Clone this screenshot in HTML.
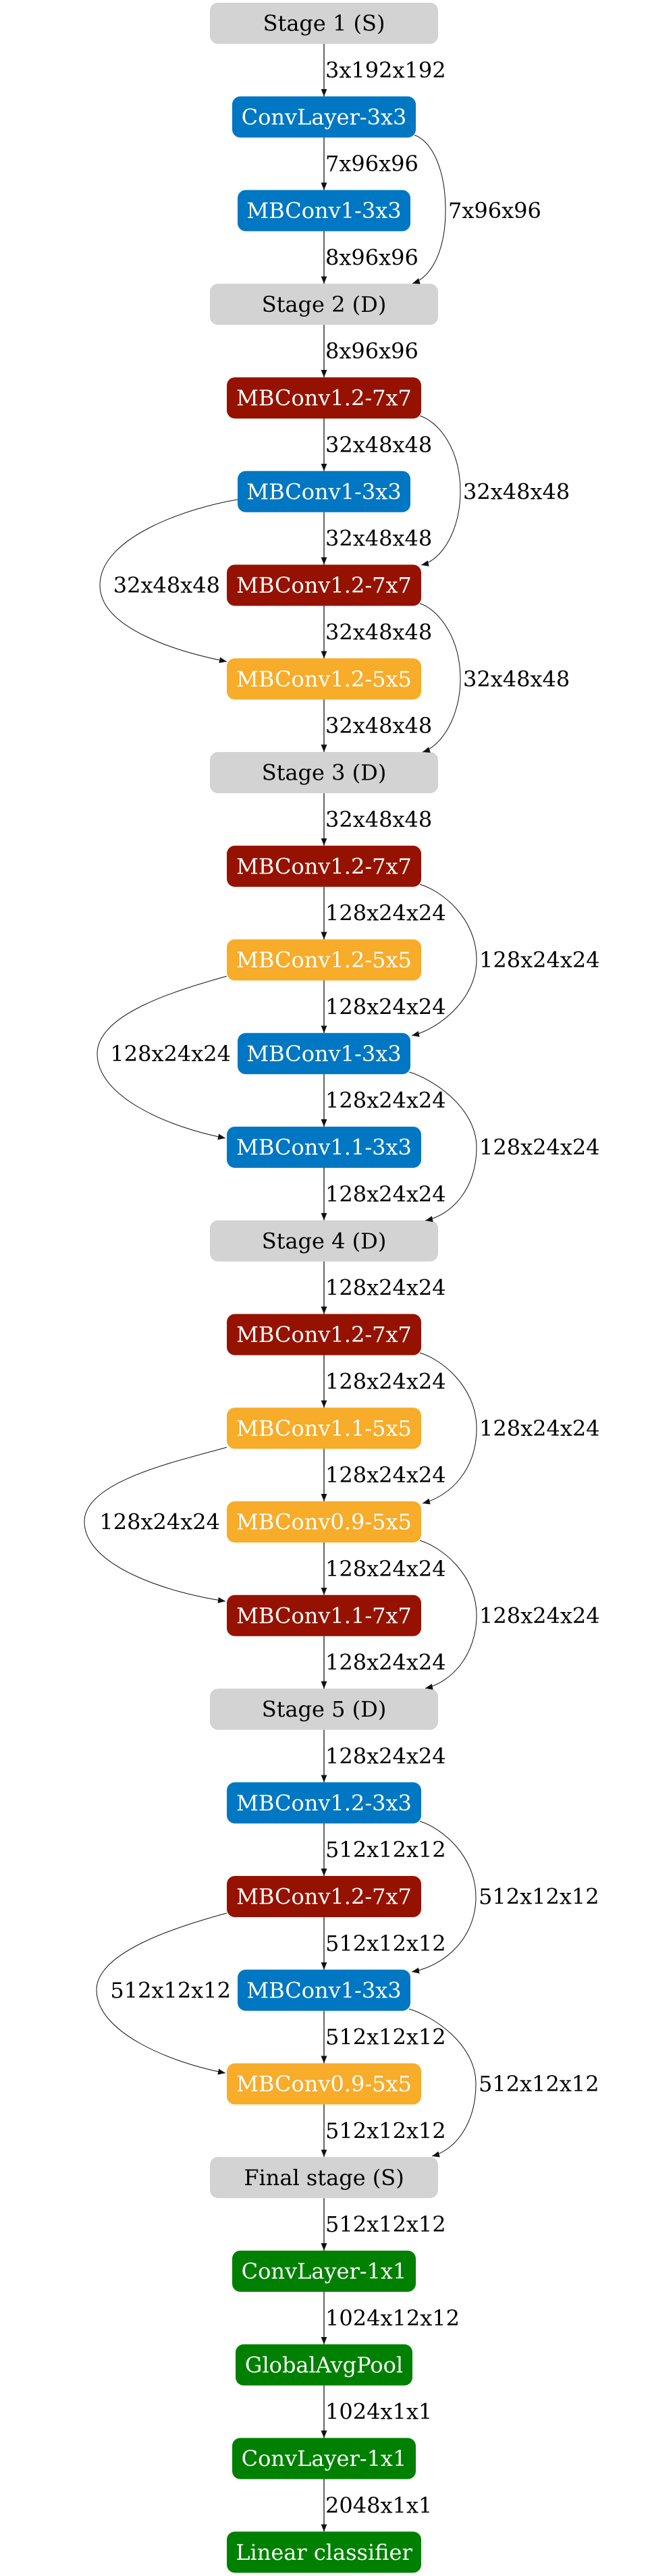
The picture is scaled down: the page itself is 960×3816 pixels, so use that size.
<!DOCTYPE html>
<html><head><meta charset="utf-8"><style>
html,body{margin:0;padding:0;background:#fff}
svg{display:block}
text{font-family:"DejaVu Serif","Liberation Serif",serif;font-size:32px}
.w{fill:#fff}
.lbl{fill:#000}
.v{stroke:#333;stroke-width:1.5}
.c{stroke:#111;stroke-width:1;fill:none}
</style></head><body>
<svg width="960" height="3816" viewBox="0 0 960 3816" xmlns="http://www.w3.org/2000/svg">
<defs><marker id="a" markerWidth="12" markerHeight="10" refX="11" refY="4.5" orient="auto" markerUnits="userSpaceOnUse"><path d="M0,0 L11,4.5 L0,9 z" fill="#111"/></marker></defs>

<g text-anchor="middle" dominant-baseline="central">
<rect x="311" y="4" width="338" height="61" rx="12" fill="#d3d3d3"/><text x="480" y="34.5">Stage 1 (S)</text>
<rect x="344" y="142.75" width="272" height="61" rx="12" fill="#0077c2"/><text class="w" x="480" y="173.25">ConvLayer-3x3</text>
<rect x="352" y="281.5" width="256" height="61" rx="12" fill="#0077c2"/><text class="w" x="480" y="312">MBConv1-3x3</text>
<rect x="311" y="420.25" width="338" height="61" rx="12" fill="#d3d3d3"/><text x="480" y="450.75">Stage 2 (D)</text>
<rect x="336" y="559" width="288" height="61" rx="12" fill="#961200"/><text class="w" x="480" y="589.5">MBConv1.2-7x7</text>
<rect x="352" y="697.75" width="256" height="61" rx="12" fill="#0077c2"/><text class="w" x="480" y="728.25">MBConv1-3x3</text>
<rect x="336" y="836.5" width="288" height="61" rx="12" fill="#961200"/><text class="w" x="480" y="867">MBConv1.2-7x7</text>
<rect x="336" y="975.25" width="288" height="61" rx="12" fill="#f7ac2a"/><text class="w" x="480" y="1005.75">MBConv1.2-5x5</text>
<rect x="311" y="1114" width="338" height="61" rx="12" fill="#d3d3d3"/><text x="480" y="1144.5">Stage 3 (D)</text>
<rect x="336" y="1252.75" width="288" height="61" rx="12" fill="#961200"/><text class="w" x="480" y="1283.25">MBConv1.2-7x7</text>
<rect x="336" y="1391.5" width="288" height="61" rx="12" fill="#f7ac2a"/><text class="w" x="480" y="1422">MBConv1.2-5x5</text>
<rect x="352" y="1530.25" width="256" height="61" rx="12" fill="#0077c2"/><text class="w" x="480" y="1560.75">MBConv1-3x3</text>
<rect x="336" y="1669" width="288" height="61" rx="12" fill="#0077c2"/><text class="w" x="480" y="1699.5">MBConv1.1-3x3</text>
<rect x="311" y="1807.75" width="338" height="61" rx="12" fill="#d3d3d3"/><text x="480" y="1838.25">Stage 4 (D)</text>
<rect x="336" y="1946.5" width="288" height="61" rx="12" fill="#961200"/><text class="w" x="480" y="1977">MBConv1.2-7x7</text>
<rect x="336" y="2085.25" width="288" height="61" rx="12" fill="#f7ac2a"/><text class="w" x="480" y="2115.75">MBConv1.1-5x5</text>
<rect x="336" y="2224" width="288" height="61" rx="12" fill="#f7ac2a"/><text class="w" x="480" y="2254.5">MBConv0.9-5x5</text>
<rect x="336" y="2362.75" width="288" height="61" rx="12" fill="#961200"/><text class="w" x="480" y="2393.25">MBConv1.1-7x7</text>
<rect x="311" y="2501.5" width="338" height="61" rx="12" fill="#d3d3d3"/><text x="480" y="2532">Stage 5 (D)</text>
<rect x="336" y="2640.25" width="288" height="61" rx="12" fill="#0077c2"/><text class="w" x="480" y="2670.75">MBConv1.2-3x3</text>
<rect x="336" y="2779" width="288" height="61" rx="12" fill="#961200"/><text class="w" x="480" y="2809.5">MBConv1.2-7x7</text>
<rect x="352" y="2917.75" width="256" height="61" rx="12" fill="#0077c2"/><text class="w" x="480" y="2948.25">MBConv1-3x3</text>
<rect x="336" y="3056.5" width="288" height="61" rx="12" fill="#f7ac2a"/><text class="w" x="480" y="3087">MBConv0.9-5x5</text>
<rect x="311" y="3195.25" width="338" height="61" rx="12" fill="#d3d3d3"/><text x="480" y="3225.75">Final stage (S)</text>
<rect x="344" y="3334" width="272" height="61" rx="12" fill="#008000"/><text class="w" x="480" y="3364.5">ConvLayer-1x1</text>
<rect x="349" y="3472.75" width="262" height="61" rx="12" fill="#008000"/><text class="w" x="480" y="3503.25">GlobalAvgPool</text>
<rect x="344" y="3611.5" width="272" height="61" rx="12" fill="#008000"/><text class="w" x="480" y="3642">ConvLayer-1x1</text>
<rect x="336" y="3750.25" width="288" height="61" rx="12" fill="#008000"/><text class="w" x="480" y="3780.75">Linear classifier</text>
</g>

<g class="v" marker-end="url(#a)">
<line x1="480" y1="65" x2="480" y2="142.75" marker-end="url(#a)"/>
<line x1="480" y1="203.75" x2="480" y2="281.5" marker-end="url(#a)"/>
<line x1="480" y1="342.5" x2="480" y2="420.25" marker-end="url(#a)"/>
<line x1="480" y1="481.25" x2="480" y2="559" marker-end="url(#a)"/>
<line x1="480" y1="620" x2="480" y2="697.75" marker-end="url(#a)"/>
<line x1="480" y1="758.75" x2="480" y2="836.5" marker-end="url(#a)"/>
<line x1="480" y1="897.5" x2="480" y2="975.25" marker-end="url(#a)"/>
<line x1="480" y1="1036.25" x2="480" y2="1114" marker-end="url(#a)"/>
<line x1="480" y1="1175" x2="480" y2="1252.75" marker-end="url(#a)"/>
<line x1="480" y1="1313.75" x2="480" y2="1391.5" marker-end="url(#a)"/>
<line x1="480" y1="1452.5" x2="480" y2="1530.25" marker-end="url(#a)"/>
<line x1="480" y1="1591.25" x2="480" y2="1669" marker-end="url(#a)"/>
<line x1="480" y1="1730" x2="480" y2="1807.75" marker-end="url(#a)"/>
<line x1="480" y1="1868.75" x2="480" y2="1946.5" marker-end="url(#a)"/>
<line x1="480" y1="2007.5" x2="480" y2="2085.25" marker-end="url(#a)"/>
<line x1="480" y1="2146.25" x2="480" y2="2224" marker-end="url(#a)"/>
<line x1="480" y1="2285" x2="480" y2="2362.75" marker-end="url(#a)"/>
<line x1="480" y1="2423.75" x2="480" y2="2501.5" marker-end="url(#a)"/>
<line x1="480" y1="2562.5" x2="480" y2="2640.25" marker-end="url(#a)"/>
<line x1="480" y1="2701.25" x2="480" y2="2779" marker-end="url(#a)"/>
<line x1="480" y1="2840" x2="480" y2="2917.75" marker-end="url(#a)"/>
<line x1="480" y1="2978.75" x2="480" y2="3056.5" marker-end="url(#a)"/>
<line x1="480" y1="3117.5" x2="480" y2="3195.25" marker-end="url(#a)"/>
<line x1="480" y1="3256.25" x2="480" y2="3334" marker-end="url(#a)"/>
<line x1="480" y1="3395" x2="480" y2="3472.75" marker-end="url(#a)"/>
<line x1="480" y1="3533.75" x2="480" y2="3611.5" marker-end="url(#a)"/>
<line x1="480" y1="3672.5" x2="480" y2="3750.25" marker-end="url(#a)"/>
</g>

<g class="c">
<path d="M614,200 C640,210 660,250 660,312 C660,370 640,410 611,420" marker-end="url(#a)"/>
<path d="M622,616 C650,625 682,665 682,728 C682,785 655,830 624,837" marker-end="url(#a)"/>
<path d="M622,894 C650,903 682,945 682,1006 C682,1060 655,1105 626,1114" marker-end="url(#a)"/>
<path d="M622,1310 C655,1320 706,1360 706,1422 C706,1480 650,1525 610,1534" marker-end="url(#a)"/>
<path d="M606,1588 C640,1598 706,1640 706,1700 C706,1760 670,1800 630,1808" marker-end="url(#a)"/>
<path d="M622,2004 C655,2014 706,2055 706,2116 C706,2175 670,2215 626,2227" marker-end="url(#a)"/>
<path d="M622,2282 C655,2292 706,2333 706,2393 C706,2450 670,2492 630,2501" marker-end="url(#a)"/>
<path d="M622,2698 C655,2708 705,2750 705,2810 C705,2870 660,2912 610,2921" marker-end="url(#a)"/>
<path d="M606,2976 C640,2986 705,3027 705,3087 C705,3145 675,3185 640,3194" marker-end="url(#a)"/>
<path d="M352,740 C280,752 148,795 148,867 C148,930 260,965 336,980" marker-end="url(#a)"/>
<path d="M336,1446 C270,1465 144,1500 144,1561 C144,1625 250,1670 334,1686" marker-end="url(#a)"/>
<path d="M336,2144 C260,2165 125,2195 125,2254 C125,2320 250,2360 334,2372" marker-end="url(#a)"/>
<path d="M336,2834 C270,2852 143,2890 143,2948 C143,3010 250,3055 334,3071" marker-end="url(#a)"/>
</g>

<g class="lbl" dominant-baseline="central">
<text x="482" y="103.9">3x192x192</text>
<text x="482" y="242.6">7x96x96</text>
<text x="482" y="381.4">8x96x96</text>
<text x="482" y="520.1">8x96x96</text>
<text x="482" y="658.9">32x48x48</text>
<text x="482" y="797.6">32x48x48</text>
<text x="482" y="936.4">32x48x48</text>
<text x="482" y="1075.1">32x48x48</text>
<text x="482" y="1213.9">32x48x48</text>
<text x="482" y="1352.6">128x24x24</text>
<text x="482" y="1491.4">128x24x24</text>
<text x="482" y="1630.1">128x24x24</text>
<text x="482" y="1768.9">128x24x24</text>
<text x="482" y="1907.6">128x24x24</text>
<text x="482" y="2046.4">128x24x24</text>
<text x="482" y="2185.1">128x24x24</text>
<text x="482" y="2323.9">128x24x24</text>
<text x="482" y="2462.6">128x24x24</text>
<text x="482" y="2601.4">128x24x24</text>
<text x="482" y="2740.1">512x12x12</text>
<text x="482" y="2878.9">512x12x12</text>
<text x="482" y="3017.6">512x12x12</text>
<text x="482" y="3156.4">512x12x12</text>
<text x="482" y="3295.1">512x12x12</text>
<text x="482" y="3433.9">1024x12x12</text>
<text x="482" y="3572.6">1024x1x1</text>
<text x="482" y="3711.4">2048x1x1</text>

<text x="664" y="312">7x96x96</text>
<text x="686" y="728.25">32x48x48</text>
<text x="686" y="1005.75">32x48x48</text>
<text x="710" y="1422">128x24x24</text>
<text x="710" y="1699.5">128x24x24</text>
<text x="710" y="2115.75">128x24x24</text>
<text x="710" y="2393.25">128x24x24</text>
<text x="709" y="2809.5">512x12x12</text>
<text x="709" y="3087">512x12x12</text>

<text x="326" y="867" text-anchor="end">32x48x48</text>
<text x="342" y="1560.75" text-anchor="end">128x24x24</text>
<text x="326" y="2254.5" text-anchor="end">128x24x24</text>
<text x="342" y="2948.25" text-anchor="end">512x12x12</text>
</g>
</svg>
</body></html>
